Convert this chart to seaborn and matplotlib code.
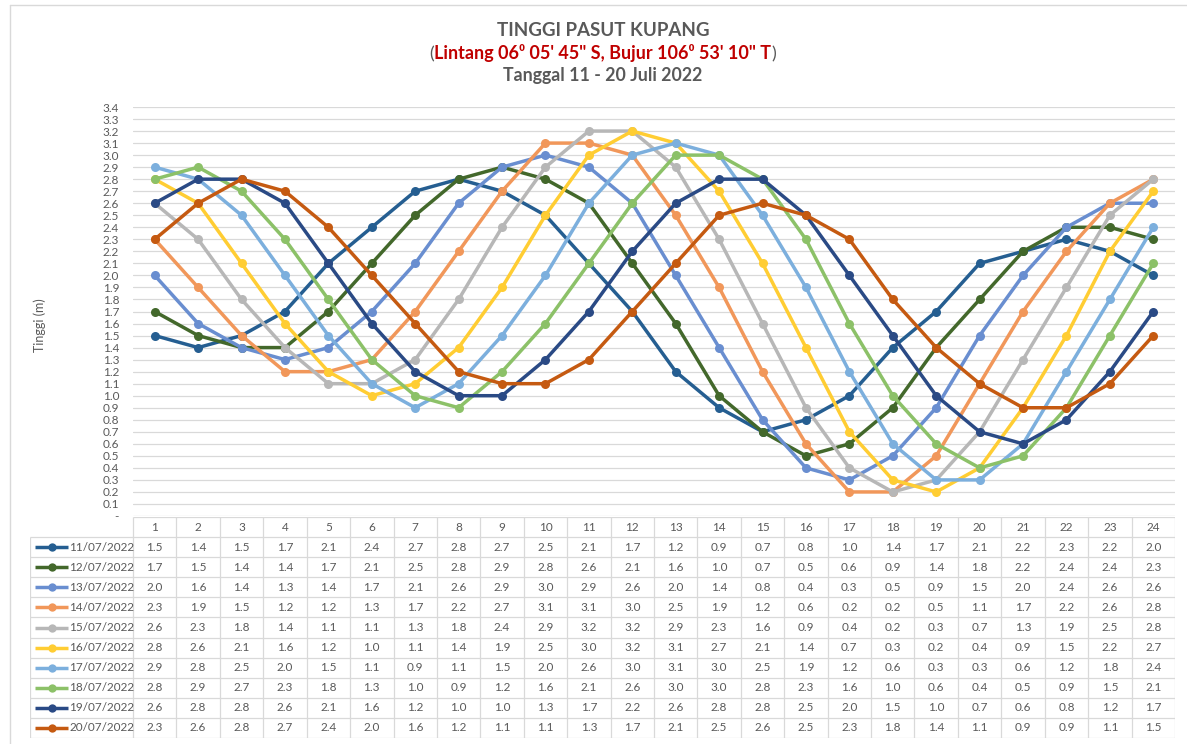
import numpy as np
import pandas as pd
import matplotlib
matplotlib.use("Agg")
import matplotlib.pyplot as plt
import seaborn as sns
from matplotlib.offsetbox import TextArea, HPacker, AnchoredOffsetbox

sns.set_theme(style="white")
plt.rcParams['font.family'] = ['Lato', 'DejaVu Sans']

# ---------------- data ----------------
hours = list(range(1, 25))
dates = ["11/07/2022", "12/07/2022", "13/07/2022", "14/07/2022", "15/07/2022",
         "16/07/2022", "17/07/2022", "18/07/2022", "19/07/2022", "20/07/2022"]
d11 = [1.5, 1.4, 1.5, 1.7, 2.1, 2.4, 2.7, 2.8, 2.7, 2.5, 2.1, 1.7, 1.2, 0.9, 0.7, 0.8, 1.0, 1.4, 1.7, 2.1, 2.2, 2.3, 2.2, 2.0]
d12 = [1.7, 1.5, 1.4, 1.4, 1.7, 2.1, 2.5, 2.8, 2.9, 2.8, 2.6, 2.1, 1.6, 1.0, 0.7, 0.5, 0.6, 0.9, 1.4, 1.8, 2.2, 2.4, 2.4, 2.3]
d13 = [2.0, 1.6, 1.4, 1.3, 1.4, 1.7, 2.1, 2.6, 2.9, 3.0, 2.9, 2.6, 2.0, 1.4, 0.8, 0.4, 0.3, 0.5, 0.9, 1.5, 2.0, 2.4, 2.6, 2.6]
d14 = [2.3, 1.9, 1.5, 1.2, 1.2, 1.3, 1.7, 2.2, 2.7, 3.1, 3.1, 3.0, 2.5, 1.9, 1.2, 0.6, 0.2, 0.2, 0.5, 1.1, 1.7, 2.2, 2.6, 2.8]
d15 = [2.6, 2.3, 1.8, 1.4, 1.1, 1.1, 1.3, 1.8, 2.4, 2.9, 3.2, 3.2, 2.9, 2.3, 1.6, 0.9, 0.4, 0.2, 0.3, 0.7, 1.3, 1.9, 2.5, 2.8]
d16 = [2.8, 2.6, 2.1, 1.6, 1.2, 1.0, 1.1, 1.4, 1.9, 2.5, 3.0, 3.2, 3.1, 2.7, 2.1, 1.4, 0.7, 0.3, 0.2, 0.4, 0.9, 1.5, 2.2, 2.7]
d17 = [2.9, 2.8, 2.5, 2.0, 1.5, 1.1, 0.9, 1.1, 1.5, 2.0, 2.6, 3.0, 3.1, 3.0, 2.5, 1.9, 1.2, 0.6, 0.3, 0.3, 0.6, 1.2, 1.8, 2.4]
d18 = [2.8, 2.9, 2.7, 2.3, 1.8, 1.3, 1.0, 0.9, 1.2, 1.6, 2.1, 2.6, 3.0, 3.0, 2.8, 2.3, 1.6, 1.0, 0.6, 0.4, 0.5, 0.9, 1.5, 2.1]
d19 = [2.6, 2.8, 2.8, 2.6, 2.1, 1.6, 1.2, 1.0, 1.0, 1.3, 1.7, 2.2, 2.6, 2.8, 2.8, 2.5, 2.0, 1.5, 1.0, 0.7, 0.6, 0.8, 1.2, 1.7]
d20 = [2.3, 2.6, 2.8, 2.7, 2.4, 2.0, 1.6, 1.2, 1.1, 1.1, 1.3, 1.7, 2.1, 2.5, 2.6, 2.5, 2.3, 1.8, 1.4, 1.1, 0.9, 0.9, 1.1, 1.5]
series = [d11, d12, d13, d14, d15, d16, d17, d18, d19, d20]
colors = ["#255E91", "#43682B", "#698ED0", "#F1975A", "#B7B7B7",
          "#FFCD33", "#7CAFDD", "#8CC168", "#2A4A85", "#C55A11"]
y_ticks = [round(v * 0.1, 1) for v in range(0, 35)]
y_labels = ["-"] + [f"{v:.1f}" for v in y_ticks[1:]]

df = pd.DataFrame({
    "jam": hours * len(dates),
    "tinggi": [v for s in series for v in s],
    "tanggal": [d for d in dates for _ in hours],
})

GRAY = "#595959"
GRID = "#D9D9D9"
W, H = 1187, 744

def fx(px):
    return px / W

def fy(py):
    return 1 - py / H

fig = plt.figure(figsize=(W / 100, H / 100), dpi=100)
fig.patch.set_facecolor("white")

# faint outer frame (page ruler look)
fig.add_artist(plt.Line2D([fx(10), fx(10)], [fy(744), fy(5)], color=GRID, lw=1))
fig.add_artist(plt.Line2D([fx(10), fx(1187)], [fy(5), fy(5)], color=GRID, lw=1))

# ---------------- main chart ----------------
L, R, T, B = 133, 1175, 107, 516
ax = fig.add_axes([fx(L), fy(B), (R - L) / W, (B - T) / H])
sns.lineplot(data=df, x="jam", y="tinggi", hue="tanggal", hue_order=dates,
             palette=colors, marker="o", markersize=6.5, markeredgewidth=0,
             linewidth=2.5, legend=False, ax=ax, zorder=3)
ax.set_xlim(0.5, 24.5)
ax.set_ylim(0, 3.4)
ax.set_yticks(y_ticks)
ax.set_yticklabels(y_labels)
ax.set_xticks([])
ax.tick_params(axis="y", length=0, pad=10, labelsize=8.5, labelcolor=GRAY)
ax.yaxis.grid(True, color=GRID, lw=0.9)
ax.xaxis.grid(False)
for s in ax.spines.values():
    s.set_visible(False)
ax.set_xlabel("")
ax.set_ylabel("")
ax.set_facecolor("none")
fig.text(fx(40), fy(325), "Tinggi (m)", rotation=90, ha="center", va="center",
         fontsize=9, color=GRAY)

# ---------------- title ----------------
tx = fx(603)
fig.text(tx, fy(30), "TINGGI PASUT KUPANG", ha="center", va="center",
         fontsize=13.5, fontweight="bold", color=GRAY)
fig.text(tx, fy(76), "Tanggal 11 - 20 Juli 2022", ha="center", va="center",
         fontsize=12.8, fontweight="bold", color=GRAY)
tp = dict(fontsize=13, fontweight="bold", family=["Lato", "DejaVu Sans"])
parts = [
    TextArea("(", textprops=dict(color=GRAY, fontsize=13, family=["Lato", "DejaVu Sans"])),
    TextArea("Lintang 06\u2070 05' 45\" S, Bujur 106\u2070 53' 10\" T", textprops=dict(color="#C00000", **tp)),
    TextArea(")", textprops=dict(color=GRAY, fontsize=13, family=["Lato", "DejaVu Sans"])),
]
pack = HPacker(children=parts, align="baseline", pad=0, sep=0)
ab = AnchoredOffsetbox(loc="center", child=pack, frameon=False,
                       bbox_to_anchor=(tx, fy(53)), bbox_transform=fig.transFigure, pad=0, borderpad=0)
fig.add_artist(ab)

# ---------------- data table ----------------
TT, TB, TL = 517, 738, 30
upx = (R - L) / 24.0
xl = 0.5 - (L - TL) / upx
tax = fig.add_axes([fx(TL), fy(TB), (R - TL) / W, (TB - TT) / H])
tax.set_xlim(xl, 24.5)
tax.set_ylim(11, 0)
tax.axis("off")
nrow = len(dates) + 1
# borders
for k in range(25):
    tax.vlines(0.5 + k, 0, nrow, color=GRID, lw=0.9)
tax.vlines(xl, 1, nrow, color=GRID, lw=0.9)
tax.hlines(0, 0.5, 24.5, color=GRID, lw=0.9)
for i in range(1, nrow + 1):
    tax.hlines(i, xl, 24.5, color=GRID, lw=0.9)
# header
for h in hours:
    tax.text(h, 0.5, str(h), ha="center", va="center", fontsize=8.5, color=GRAY)
# rows
for i, (d, s, c) in enumerate(zip(dates, series, colors)):
    yy = i + 1.5
    tax.plot([xl + 0.12, xl + 0.88], [yy, yy], color=c, lw=2.5, solid_capstyle="butt")
    tax.plot([xl + 0.5], [yy], marker="o", color=c, markersize=6, markeredgewidth=0)
    tax.text(xl + 0.9, yy, d, ha="left", va="center", fontsize=8.5, color=GRAY)
    for h, v in zip(hours, s):
        tax.text(h, yy, f"{v:.1f}", ha="center", va="center", fontsize=8.5, color=GRAY)

fig.savefig("out.png", dpi=100, facecolor="white")
